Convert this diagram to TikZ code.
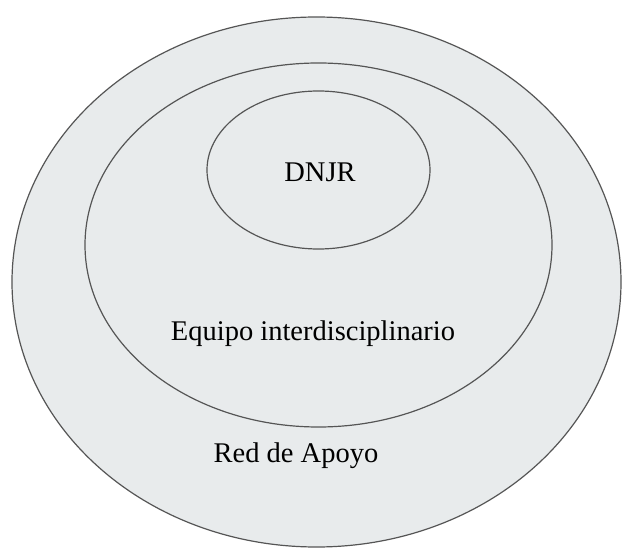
\documentclass[tikz,border=0pt]{standalone}
\usepackage{fontspec}
\setmainfont{Liberation Serif}
\definecolor{ringfill}{HTML}{E8EBEC}
\definecolor{ringline}{HTML}{555555}

\begin{document}
\begin{tikzpicture}[x=1pt,y=-1pt,
    ring/.style={draw=ringline, fill=ringfill, line width=1.2pt},
    tag/.style={font=\fontsize{28.5}{34}\selectfont, anchor=base, inner sep=0pt}]
    \useasboundingbox (0,0) rectangle (622,548);
    % Draw the outer ring
    \draw[ring] (316.5,282) ellipse [x radius=304.5, y radius=265];
    % Draw the middle ring
    \draw[ring] (318.5,245) ellipse [x radius=233.5, y radius=182];
    % Draw the inner ring
    \draw[ring] (318.5,170) ellipse [x radius=111.5, y radius=79];
    % Draw the labels
    \node[tag] (dnjr) at (320,182) {DNJR};
    \node[tag] (equipo) at (313,341) {Equipo interdisciplinario};
    \node[tag] (red) at (296,463) {Red de Apoyo};
\end{tikzpicture}
\end{document}
